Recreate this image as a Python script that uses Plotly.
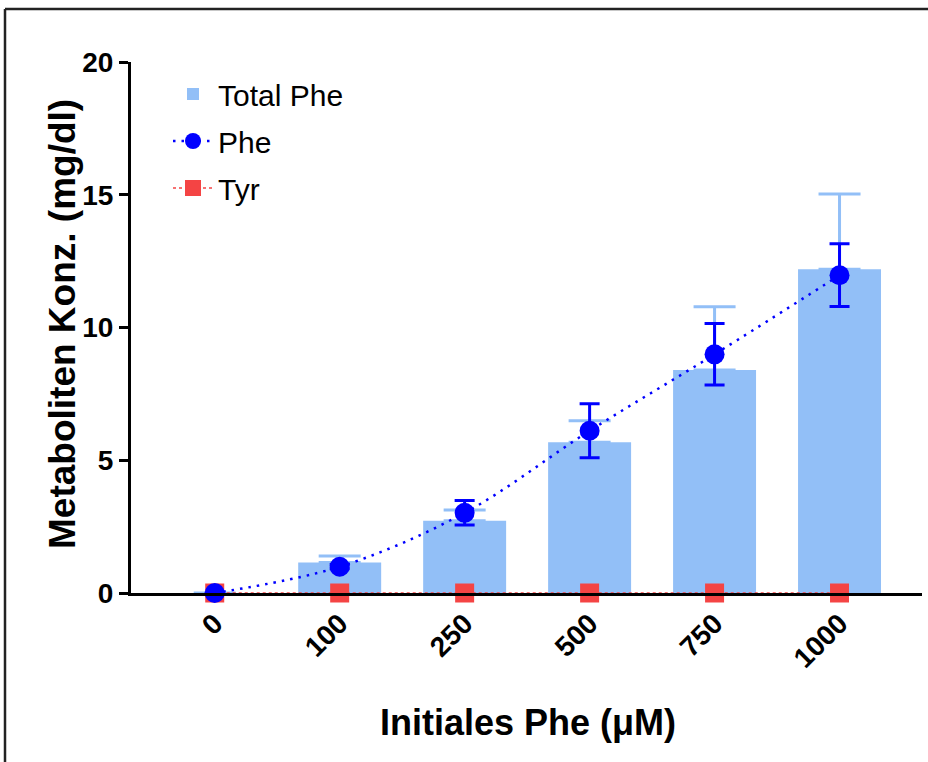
import plotly.graph_objects as go

categories = ["0", "100", "250", "500", "750", "1000"]
total_phe = [0, 1.15, 2.72, 5.68, 8.40, 12.19]
total_phe_err = [None, 0.24, 0.41, 0.81, 2.38, 2.84]
phe = [0, 0.99, 3.02, 6.11, 8.99, 11.97]
phe_err = [None, 0.08, 0.46, 1.02, 1.16, 1.18]
tyr = [0, 0, 0, 0, 0, 0]
y_ticks = [0, 5, 10, 15, 20]

BAR_C = "#92BFF7"
BLUE = "#0000FF"
RED = "#F44444"
FONT = "Liberation Sans, Arial, sans-serif"

# plot-area geometry (pixels)
W, H = 928, 762
L, R, T, B = 131, 6, 62, 169
pw, ph = W - L - R, H - T - B

def px_x(x):
    return (x - L) / pw

def px_y(y):
    return (H - B - y) / ph

fig = go.Figure()
fig.add_trace(go.Bar(
    x=categories, y=total_phe, name="Total Phe", width=0.664,
    marker=dict(color=BAR_C, line=dict(width=0)),
    error_y=dict(type="data", array=total_phe_err, arrayminus=[0] * 6,
                 symmetric=False, color=BAR_C, thickness=3, width=21),
    legendgroup="a", legendrank=1,
))
fig.add_trace(go.Scatter(
    x=categories, y=tyr, name="Tyr", mode="lines+markers",
    line=dict(color=RED, width=1.5, dash="dot"),
    marker=dict(symbol="square", size=19, color=RED),
    cliponaxis=False, legendgroup="c", legendrank=3,
))
fig.add_trace(go.Scatter(
    x=categories, y=phe, name="Phe", mode="lines+markers",
    line=dict(color=BLUE, width=2.5, dash="2.5px,6px", shape="spline"),
    marker=dict(symbol="circle", size=20, color=BLUE),
    error_y=dict(type="data", array=phe_err, color=BLUE, thickness=3, width=10),
    cliponaxis=False, legendgroup="b", legendrank=2,
))

fig.update_layout(
    width=W, height=H,
    margin=dict(l=L, r=R, t=T, b=B),
    paper_bgcolor="white", plot_bgcolor="white",
    font=dict(family=FONT, color="black"),
    showlegend=True,
    legend=dict(x=px_x(168), y=px_y(68), xanchor="left", yanchor="top",
                font=dict(size=30, family=FONT), bgcolor="rgba(0,0,0,0)",
                tracegroupgap=5, traceorder="grouped", itemwidth=40),
    bargap=0.3,
)
fig.update_xaxes(
    type="category", categoryorder="array", categoryarray=categories,
    range=[-0.67, 5.66], showline=True, linecolor="black", linewidth=3,
    ticks="", tickangle=-45, showgrid=False, zeroline=False,
    tickfont=dict(size=28, family=FONT, weight="bold"),
)
fig.update_yaxes(
    range=[0, 20], tickvals=y_ticks, showline=True, linecolor="black",
    linewidth=3, ticks="outside", ticklen=9, tickwidth=3, tickcolor="black",
    showgrid=False, zeroline=False,
    tickfont=dict(size=28, family=FONT, weight="bold"),
)

fig.add_annotation(text="Metaboliten Konz. (mg/dl)", textangle=-90,
                   x=px_x(62), y=px_y(324), xref="paper", yref="paper",
                   xanchor="center", yanchor="middle",
                   showarrow=False, font=dict(size=37, family=FONT, weight="bold"))
fig.add_annotation(text="Initiales Phe (μM)",
                   x=px_x(528), y=px_y(722), xref="paper", yref="paper",
                   xanchor="center", yanchor="middle",
                   showarrow=False, font=dict(size=36, family=FONT, weight="bold"))

# frame around the figure (top and left edges visible)
fig.add_shape(type="line", xref="paper", yref="paper",
              x0=px_x(5), x1=px_x(940), y0=px_y(9), y1=px_y(9),
              line=dict(color="#222", width=2.5))
fig.add_shape(type="line", xref="paper", yref="paper",
              x0=px_x(5), x1=px_x(5), y0=px_y(9), y1=px_y(780),
              line=dict(color="#222", width=2.5))

fig.write_html("out.html", config={"displayModeBar": False},
               post_script="document.body.style.margin='0';document.body.style.overflow='hidden';")
